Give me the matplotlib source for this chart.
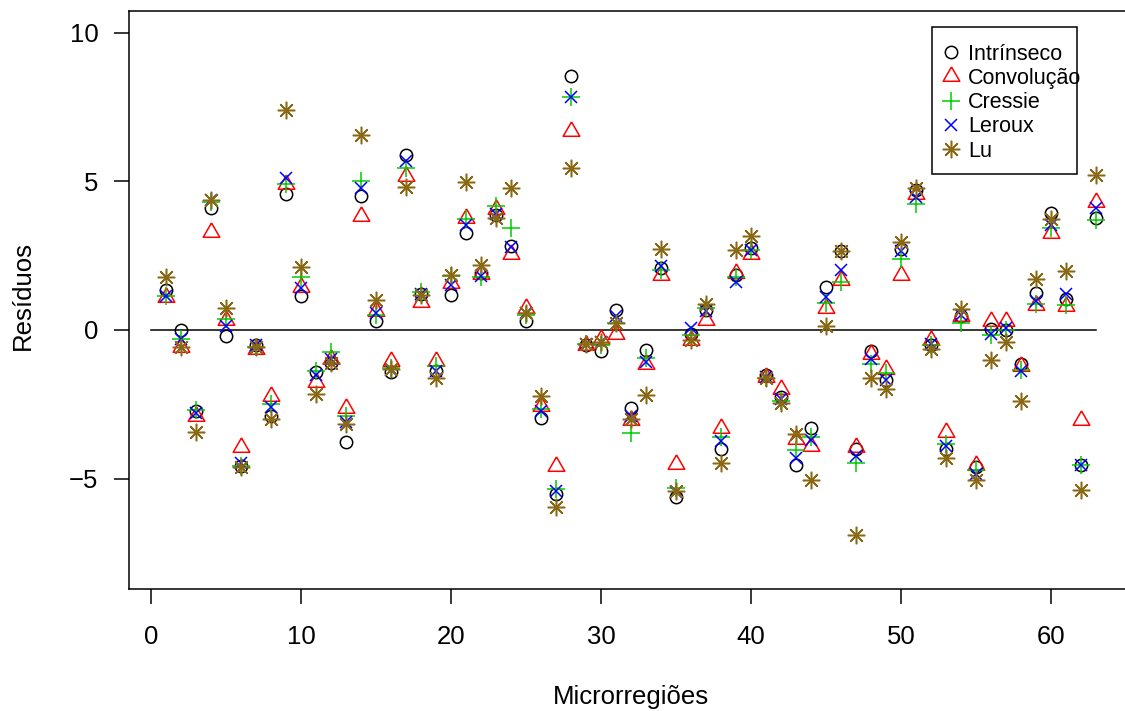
import matplotlib
matplotlib.use("Agg")
import matplotlib.pyplot as plt
from matplotlib.lines import Line2D
from matplotlib.patches import Rectangle

plt.rcParams['font.family'] = ['Liberation Sans', 'DejaVu Sans']

# resíduos por microrregião, um vetor por modelo
microrregiao = list(range(1, 64))
intrinseco = [1.36, 0.00, -2.73, 4.09, -0.21, -4.59, -0.52, -2.88, 4.59, 1.13,
              -1.42, -1.10, -3.77, 4.51, 0.29, -1.42, 5.90, 1.22, -1.37, 1.16,
              3.27, 1.92, 3.86, 2.81, 0.31, -2.96, -5.52, 8.54, -0.50, -0.70,
              0.66, -2.61, -0.67, 2.09, -5.63, -0.12, 0.67, -4.00, 1.86, 2.76,
              -1.51, -2.26, -4.53, -3.31, 1.45, 2.65, -4.00, -0.70, -1.68, 2.73,
              4.70, -0.52, -4.00, 0.46, -4.62, 0.02, 0.00, -1.13, 1.24, 3.95,
              1.05, -4.55, 3.75]
convolucao = [1.10, -0.58, -2.90, 3.31, 0.35, -3.93, -0.64, -2.21, 4.90, 1.45,
              -1.74, -0.99, -2.61, 3.83, 0.64, -1.05, 5.17, 0.95, -1.05, 1.57,
              3.77, 1.88, 4.07, 2.56, 0.75, -2.56, -4.59, 6.68, -0.52, -0.32,
              -0.12, -3.02, -1.14, 1.84, -4.51, -0.35, 0.35, -3.29, 1.92, 2.56,
              -1.57, -1.97, -3.66, -3.89, 0.75, 1.68, -3.93, -0.81, -1.30, 1.86,
              4.59, -0.33, -3.43, 0.46, -4.53, 0.29, 0.29, -1.22, 0.84, 3.25,
              0.81, -3.03, 4.30]
cressie = [1.14, -0.29, -2.70, 4.30, 0.37, -4.56, -0.58, -2.50, 4.90, 1.77,
           -1.37, -0.75, -2.90, 5.02, 0.52, -1.28, 5.44, 1.28, -1.22, 1.80,
           3.72, 1.77, 4.18, 3.43, 0.52, -2.67, -5.34, 7.84, -0.46, -0.50,
           0.23, -3.46, -0.93, 2.03, -5.32, -0.17, 0.75, -3.60, 1.77, 2.69,
           -1.63, -2.38, -4.04, -3.60, 0.91, 1.63, -4.47, -1.16, -1.45, 2.38,
           4.24, -0.52, -3.83, 0.23, -4.70, -0.17, 0.00, -1.34, 0.87, 3.43,
           0.84, -4.55, 3.70]
leroux = [1.13, -0.31, -2.79, 4.36, 0.12, -4.47, -0.52, -2.58, 5.11, 1.42,
          -1.51, -0.99, -3.11, 4.79, 0.58, -1.34, 5.69, 1.22, -1.39, 1.51,
          3.52, 1.80, 3.89, 2.79, 0.58, -2.73, -5.40, 7.84, -0.46, -0.41,
          0.46, -2.90, -1.07, 2.15, -5.46, 0.06, 0.64, -3.74, 1.63, 2.69,
          -1.57, -2.32, -4.30, -3.69, 1.10, 2.03, -4.24, -0.99, -1.68, 2.67,
          4.47, -0.46, -3.89, 0.49, -4.85, -0.12, 0.06, -1.37, 0.99, 3.54,
          1.22, -4.55, 4.10]
lu = [1.77, -0.58, -3.43, 4.36, 0.75, -4.62, -0.58, -3.00, 7.41, 2.11,
      -2.15, -1.10, -3.16, 6.56, 1.02, -1.30, 4.82, 1.16, -1.63, 1.86,
      4.99, 2.18, 3.77, 4.79, 0.58, -2.21, -5.95, 5.46, -0.46, -0.41,
      0.23, -2.98, -2.18, 2.73, -5.40, -0.35, 0.87, -4.47, 2.69, 3.16,
      -1.60, -2.46, -3.51, -5.05, 0.12, 2.65, -6.91, -1.63, -1.97, 2.96,
      4.79, -0.64, -4.30, 0.70, -5.05, -1.02, -0.41, -2.38, 1.72, 3.74,
      2.00, -5.37, 5.20]

nomes = ['Intrínseco', 'Convolução', 'Cressie', 'Leroux', 'Lu']
cores = ['black', '#FF0000', '#00CD00', '#0000FF', '#8B6914']

triangulo = [(0, 1), (-0.866, -0.5), (0.866, -0.5), (0, 1)]
simbolos = ['o', triangulo, '+', 'x', (8, 2, 0)]
tamanhos = [8.9, 13.8, 12.6, 8.9, 12.6]

fig = plt.figure(figsize=(11.25, 7.11), dpi=100)
W, H = 1125, 711
ax_l, ax_b, ax_w, ax_h = 128.8, 589.2, 1004.4, 577.9   # em pixels
ax = fig.add_axes([ax_l / W, (H - ax_b) / H, ax_w / W, ax_h / H])

series = [intrinseco, convolucao, cressie, leroux, lu]
for k, (y, nome, cor, simb, ms) in enumerate(zip(series, nomes, cores, simbolos, tamanhos)):
    ax.plot(microrregiao, y, linestyle='none', marker=simb, markersize=ms,
            markerfacecolor='none', markeredgecolor=cor, markeredgewidth=1.1,
            label=nome, zorder=3 + k)

ax.plot([0, 63], [0, 0], color='black', linewidth=1.1, zorder=2)

ax.set_xlim(-1.48, 65.48)
ax.set_ylim(-8.72, 10.72)
ax.set_xticks(range(0, 61, 10))
ax.set_yticks([-5, 0, 5, 10])
ax.tick_params(direction='out', length=10.8, width=1.1, labelsize=18.5)
ax.tick_params(axis='x', pad=15)
ax.tick_params(axis='y', pad=11)
for s in ax.spines.values():
    s.set_linewidth(1.1)

fig.text(23 / W, (H - 295) / H, 'Resíduos', rotation=90, ha='center', va='center', fontsize=18.5)
fig.text(631 / W, (H - 704) / H, 'Microrregiões', ha='center', va='baseline', fontsize=18.5)

# caixa da legenda desenhada à parte (o texto pode passar da borda direita)
caixa_x0, caixa_y0, caixa_x1, caixa_y1 = 932, 27, 1077, 174
ax.add_patch(Rectangle(((caixa_x0 - ax_l) / ax_w, (ax_b - caixa_y1) / ax_h),
                       (caixa_x1 - caixa_x0) / ax_w, (caixa_y1 - caixa_y0) / ax_h,
                       transform=ax.transAxes, facecolor='white', edgecolor='black',
                       linewidth=1.1, zorder=9, clip_on=False))

handles = [Line2D([], [], linestyle='none', marker=simb, markersize=ms,
                  markerfacecolor='none', markeredgecolor=cor, markeredgewidth=1.1)
           for cor, simb, ms in zip(cores, simbolos, tamanhos)]
leg = ax.legend(handles, nomes, loc='upper left',
                bbox_to_anchor=((caixa_x0 - ax_l) / ax_w, (ax_b - caixa_y0) / ax_h),
                borderaxespad=0, fontsize=15.5, frameon=False,
                labelspacing=0.15, borderpad=0.78, handlelength=0.2, handletextpad=0.7)
leg.set_zorder(10)

fig.savefig('out.png', dpi=100)
